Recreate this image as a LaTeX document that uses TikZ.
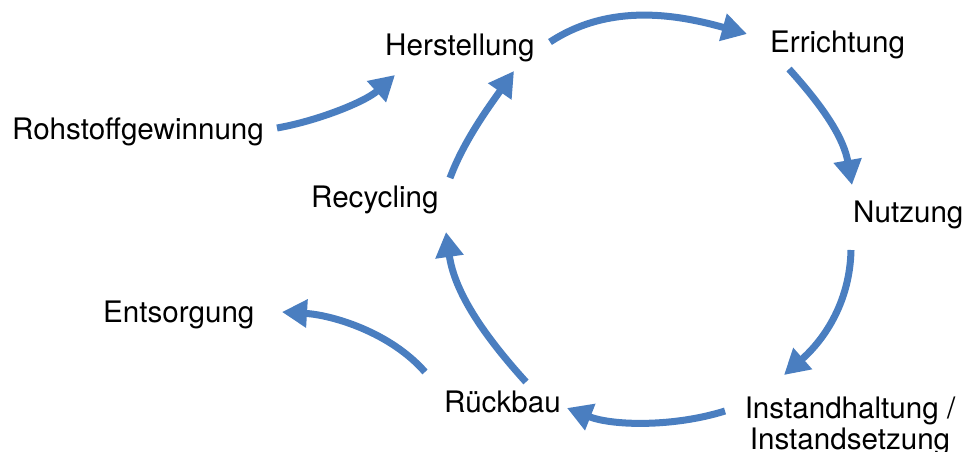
\documentclass[tikz,border=0pt]{standalone}
\usepackage{fontspec}
\setmainfont{TeX Gyre Heros}
\usetikzlibrary{arrows.meta,calc}
\definecolor{cycleblue}{RGB}{74,126,192}
\begin{document}
\begin{tikzpicture}[x=1pt,y=-1pt,
  stage/.style={inner sep=0pt, font=\fontsize{29.6}{31}\selectfont},
  flow/.style={draw=cycleblue, line width=7pt,
    -{Triangle[length=25pt,width=27pt]}}]
\useasboundingbox (0,0) rectangle (964,452);

% life-cycle stages
\node[stage, anchor=base west] (herst)   at (385,56)  {Herstellung};
\node[stage, anchor=base west] (erricht) at (770,53)  {Errichtung};
\node[stage, anchor=base west] (nutz)    at (853,222) {Nutzung};
\node[stage, anchor=north, align=center] (instand) at (850,397)
  {Instandhaltung /\\Instandsetzung};
\node[stage, anchor=base west] (rueck)   at (444,412) {Rückbau};
\node[stage, anchor=base west] (recyc)   at (311,207) {Recycling};
\node[stage, anchor=base west] (roh)     at (12,139)  {Rohstoffgewinnung};
\node[stage, anchor=base west] (entsorg) at (103,322) {Entsorgung};

% the cycle
\draw[flow] ($(herst.base west)+(165,-14)$)
  .. controls +(61,-40) and +(-68,-19) .. ($(erricht.base west)+(-23,-19)$);
\draw[flow] ($(erricht.base west)+(19,16)$)
  .. controls +(38,42) and +(-8,-45) .. ($(nutz.base west)+(-1,-37)$);
\draw[flow] ($(nutz.base west)+(-2,28)$)
  .. controls +(-1,50) and +(42,-37) .. ($(instand.north)+(-66,-22)$);
\draw[flow] ($(instand.north)+(-125,14)$)
  .. controls +(-51,16) and +(46,18) .. ($(rueck.base west)+(123,-4)$);
\draw[flow] ($(rueck.base west)+(82,-30)$)
  .. controls +(-43.5,-48) and +(8.4,59.4) .. ($(recyc.base west)+(135,25)$);
\draw[flow] ($(recyc.base west)+(139,-29)$)
  .. controls +(14,-38) and +(-23,33) .. ($(herst.base west)+(129,15)$);

% entry and exit
\draw[flow] ($(roh.base west)+(265,-11)$)
  .. controls +(40,-7) and +(-30,27) .. ($(herst.base west)+(10,19)$);
\draw[flow] ($(rueck.base west)+(-19,-40)$)
  .. controls +(-35,-40) and +(50,3) .. ($(entsorg.base west)+(179,-10)$);
\end{tikzpicture}
\end{document}
